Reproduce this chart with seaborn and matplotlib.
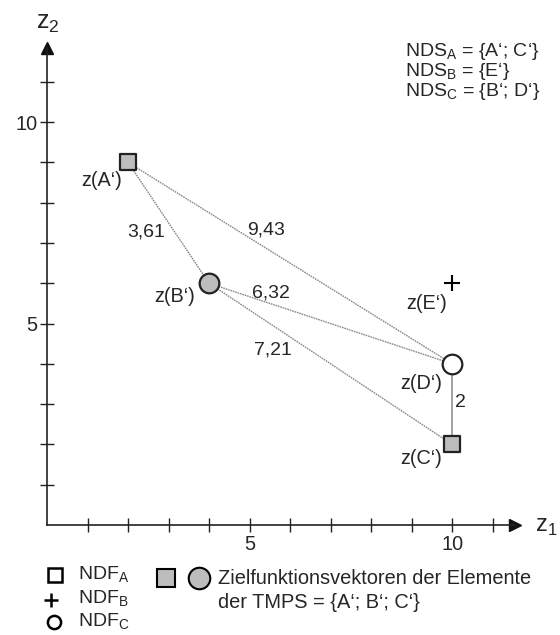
import matplotlib
matplotlib.use("Agg")
import matplotlib.pyplot as plt
import seaborn as sns
import pandas as pd

# points (z1, z2)
names = ["A", "B", "C", "D", "E"]
z1 = [2, 4, 10, 10, 10]
z2 = [9, 6, 2, 4, 6]

# connections and their distance labels
seg_from = ["A", "A", "B", "B", "D"]
seg_to = ["B", "D", "D", "C", "C"]
seg_label = ["3,61", "9,43", "6,32", "7,21", "2"]

x_ticks = list(range(1, 12))
y_ticks = list(range(1, 12))

sns.set_style("white")
plt.rcParams['font.family'] = ['Liberation Sans', 'DejaVu Sans']
plt.rcParams['mathtext.fontset'] = 'custom'
plt.rcParams['mathtext.rm'] = 'Liberation Sans'

pts = pd.DataFrame({"name": names, "z1": z1, "z2": z2}).set_index("name")

fig = plt.figure(figsize=(5.6, 6.35), dpi=100)
ax = fig.add_axes([47 / 560, 110 / 635, 468 / 560, 477 / 635])
ax.set_xlim(0, 11.55)
ax.set_ylim(0, 11.84)

# connecting lines
rows = []
for i, (a, b) in enumerate(zip(seg_from, seg_to)):
    rows.append({"seg": i, "z1": pts.loc[a, "z1"], "z2": pts.loc[a, "z2"]})
    rows.append({"seg": i, "z1": pts.loc[b, "z1"], "z2": pts.loc[b, "z2"]})
segs = pd.DataFrame(rows)
dotted = segs[segs["seg"] < 4]
solid = segs[segs["seg"] == 4]
sns.lineplot(data=dotted, x="z1", y="z2", units="seg", estimator=None, sort=False,
             color="#8a8a8a", lw=1, ls=(0, (1.2, 0.6)), ax=ax)
sns.lineplot(data=solid, x="z1", y="z2", units="seg", estimator=None, sort=False,
             color="#9a9a9a", lw=1.3, ax=ax)

# markers
sq = pts.loc[["A", "C"]].reset_index()
ax.scatter(sq["z1"], sq["z2"], marker="s", s=120, c="#bdbdbd", edgecolors="#222222",
           linewidths=1.6, zorder=5)
ax.scatter([pts.loc["B", "z1"]], [pts.loc["B", "z2"]], marker="o", s=200, c="#bdbdbd",
           edgecolors="#222222", linewidths=1.6, zorder=5)
ax.scatter([pts.loc["D", "z1"]], [pts.loc["D", "z2"]], marker="o", s=200, c="white",
           edgecolors="#222222", linewidths=1.6, zorder=5)
ax.scatter([pts.loc["E", "z1"]], [pts.loc["E", "z2"]], marker="+", s=120, c="black",
           linewidths=1.5, zorder=5)

fs = 14.3
# point labels
ax.text(1.85, 8.56, "z(A‘)", fontsize=fs, ha="right", va="center")
ax.text(3.65, 5.66, "z(B‘)", fontsize=fs, ha="right", va="center")
ax.text(9.75, 1.66, "z(C‘)", fontsize=fs, ha="right", va="center")
ax.text(9.75, 3.52, "z(D‘)", fontsize=fs, ha="right", va="center")
ax.text(9.88, 5.51, "z(E‘)", fontsize=fs, ha="right", va="center")

# distance labels
lab_pos = [(1.98, 7.27), (4.94, 7.32), (5.06, 5.76), (5.11, 4.34), (10.07, 3.03)]
for (lx, ly), t in zip(lab_pos, seg_label):
    ax.text(lx, ly, t, fontsize=14, ha="left", va="center")

# axes styling
for s in ["top", "right"]:
    ax.spines[s].set_visible(False)
for s in ["left", "bottom"]:
    ax.spines[s].set_color("#222222")
    ax.spines[s].set_linewidth(1.2)
ax.set_xticks(x_ticks)
ax.set_yticks(y_ticks)
ax.set_xticklabels(["5" if t == 5 else "10" if t == 10 else "" for t in x_ticks], fontsize=fs)
ax.set_yticklabels(["5" if t == 5 else "10" if t == 10 else "" for t in y_ticks], fontsize=fs)
ax.tick_params(bottom=True, left=True, direction="inout", length=10, width=1,
               color="#222222", pad=2)
ax.set_xlabel("")
ax.set_ylabel("")

# arrow heads
ax.plot(1, 0, ">", color="#111111", ms=8, transform=ax.transAxes, clip_on=False)
ax.plot(0, 1, "^", color="#111111", ms=8, transform=ax.transAxes, clip_on=False)
fig.text(535 / 560, 1 - 527 / 635, r"z$_\mathregular{1}$", fontsize=17, ha="left", va="center")
fig.text(36 / 560, 1 - 23 / 635, r"z$_\mathregular{2}$", fontsize=18, ha="left", va="center")

# NDS text
nds = [r"NDS$_\mathregular{A}$ = {A‘; C‘}", r"NDS$_\mathregular{B}$ = {E‘}",
       r"NDS$_\mathregular{C}$ = {B‘; D‘}"]
for i, t in enumerate(nds):
    fig.text(405 / 560, 1 - (51 + i * 20) / 635, t, fontsize=14, ha="left", va="center")

# legend at bottom
def fy(p):
    return 1 - p / 635

fig.lines.append(plt.Line2D([55 / 560], [fy(575)], marker="s", ms=10.5, mfc="white",
                            mec="black", mew=1.8, transform=fig.transFigure))
fig.lines.append(plt.Line2D([51 / 560], [fy(600)], marker="+", ms=10, mec="black",
                            mew=1.8, transform=fig.transFigure))
fig.lines.append(plt.Line2D([54 / 560], [fy(622)], marker="o", ms=9.5, mfc="white",
                            mec="black", mew=1.8, transform=fig.transFigure))
ndf = [r"NDF$_\mathregular{A}$", r"NDF$_\mathregular{B}$", r"NDF$_\mathregular{C}$"]
for i, t in enumerate(ndf):
    fig.text(78 / 560, fy(575 + i * 23.5), t, fontsize=14, ha="left", va="center")
fig.lines.append(plt.Line2D([166 / 560], [fy(578)], marker="s", ms=12.5, mfc="#bdbdbd",
                            mec="black", mew=1.5, transform=fig.transFigure))
fig.lines.append(plt.Line2D([199 / 560], [fy(578)], marker="o", ms=15.5, mfc="#bdbdbd",
                            mec="black", mew=1.5, transform=fig.transFigure))
fig.text(218 / 560, fy(578), "Zielfunktionsvektoren der Elemente", fontsize=14.4, ha="left", va="center")
fig.text(218 / 560, fy(603), "der TMPS = {A‘; B‘; C‘}", fontsize=14.4, ha="left", va="center")

fig.savefig("out.png", dpi=100)
